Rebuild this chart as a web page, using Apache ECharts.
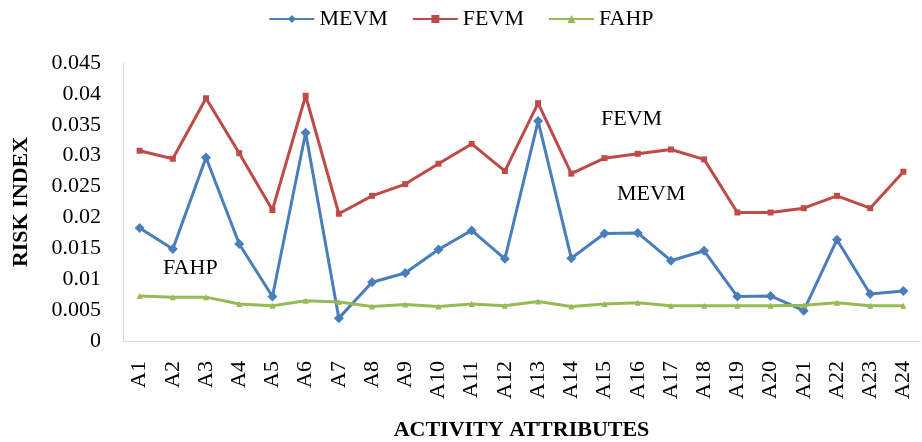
<!DOCTYPE html>
<html>
<head>
<meta charset="utf-8">
<script src="https://cdn.jsdelivr.net/npm/echarts@6/dist/echarts.min.js"></script>
<style>
  html, body { margin: 0; padding: 0; background: #fff; }
  #chart { width: 922px; height: 442px; }
</style>
</head>
<body>
<div id="chart"></div>
<script>
// activity attributes A1..A24
const categories = ['A1', 'A2', 'A3', 'A4', 'A5', 'A6', 'A7', 'A8', 'A9', 'A10', 'A11', 'A12',
  'A13', 'A14', 'A15', 'A16', 'A17', 'A18', 'A19', 'A20', 'A21', 'A22', 'A23', 'A24'];

const mevm = [0.0183, 0.0149, 0.0297, 0.0157, 0.0072, 0.0337, 0.0037, 0.0095, 0.0110, 0.0148, 0.0179, 0.0133,
  0.0356, 0.0134, 0.0174, 0.0175, 0.0130, 0.0146, 0.0072, 0.0073, 0.0049, 0.0164, 0.0076, 0.0081];
const fevm = [0.0308, 0.0295, 0.0393, 0.0304, 0.0212, 0.0397, 0.0206, 0.0235, 0.0254, 0.0287, 0.0319, 0.0275,
  0.0385, 0.0271, 0.0296, 0.0303, 0.0310, 0.0294, 0.0208, 0.0208, 0.0215, 0.0235, 0.0215, 0.0274];
const fahp = [0.0073, 0.0071, 0.0071, 0.0060, 0.0057, 0.0065, 0.0063, 0.0056, 0.0059, 0.0056, 0.0060, 0.0057,
  0.0064, 0.0056, 0.0060, 0.0062, 0.0057, 0.0057, 0.0057, 0.0057, 0.0058, 0.0062, 0.0057, 0.0057];

const FONT = '"Liberation Serif", "Times New Roman", serif';

const chart = echarts.init(document.getElementById('chart'));

function line(name, data, color, symbol, size) {
  return {
    name: name,
    type: 'line',
    data: data,
    symbol: symbol,
    symbolSize: size,
    lineStyle: { width: 3, color: color },
    itemStyle: { color: color },
    animation: false
  };
}

chart.setOption({
  backgroundColor: '#fff',
  textStyle: { fontFamily: FONT },
  legend: {
    top: 3,
    left: 'center',
    itemWidth: 45,
    itemHeight: 10,
    itemGap: 24,
    textStyle: { fontFamily: FONT, fontSize: 22, color: '#000' },
    data: ['MEVM', 'FEVM', 'FAHP']
  },
  grid: { left: 123, right: 2, top: 63, bottom: 101, containLabel: false, outerBoundsMode: 'none' },
  xAxis: {
    type: 'category',
    data: categories,
    name: 'ACTIVITY ATTRIBUTES',
    nameLocation: 'middle',
    nameGap: 78,
    nameTextStyle: { fontFamily: FONT, fontSize: 22, fontWeight: 'bold', color: '#000' },
    axisLine: { lineStyle: { color: '#d9d9d9', width: 1 } },
    axisTick: { show: false },
    axisLabel: { rotate: 90, interval: 0, margin: 20, fontFamily: FONT, fontSize: 22, color: '#000' }
  },
  yAxis: {
    type: 'value',
    min: 0,
    max: 0.045,
    interval: 0.005,
    name: 'RISK INDEX',
    nameLocation: 'middle',
    nameGap: 91,
    nameTextStyle: { fontFamily: FONT, fontSize: 22, fontWeight: 'bold', color: '#000' },
    axisLine: { show: true, lineStyle: { color: '#d9d9d9', width: 1 } },
    axisTick: { show: false },
    splitLine: { show: false },
    axisLabel: { margin: 22, fontFamily: FONT, fontSize: 22, color: '#000' }
  },
  graphic: [
    { type: 'text', left: 601, top: 108, style: { text: 'FEVM', font: '22px ' + FONT, fill: '#000' } },
    { type: 'text', left: 617, top: 183, style: { text: 'MEVM', font: '22px ' + FONT, fill: '#000' } },
    { type: 'text', left: 163, top: 257, style: { text: 'FAHP', font: '22px ' + FONT, fill: '#000' } }
  ],
  series: [
    line('MEVM', mevm, '#4a7ebb', 'diamond', 10),
    line('FEVM', fevm, '#be4b48', 'rect', 6),
    line('FAHP', fahp, '#98b954', 'triangle', 6)
  ]
});
</script>
</body>
</html>
